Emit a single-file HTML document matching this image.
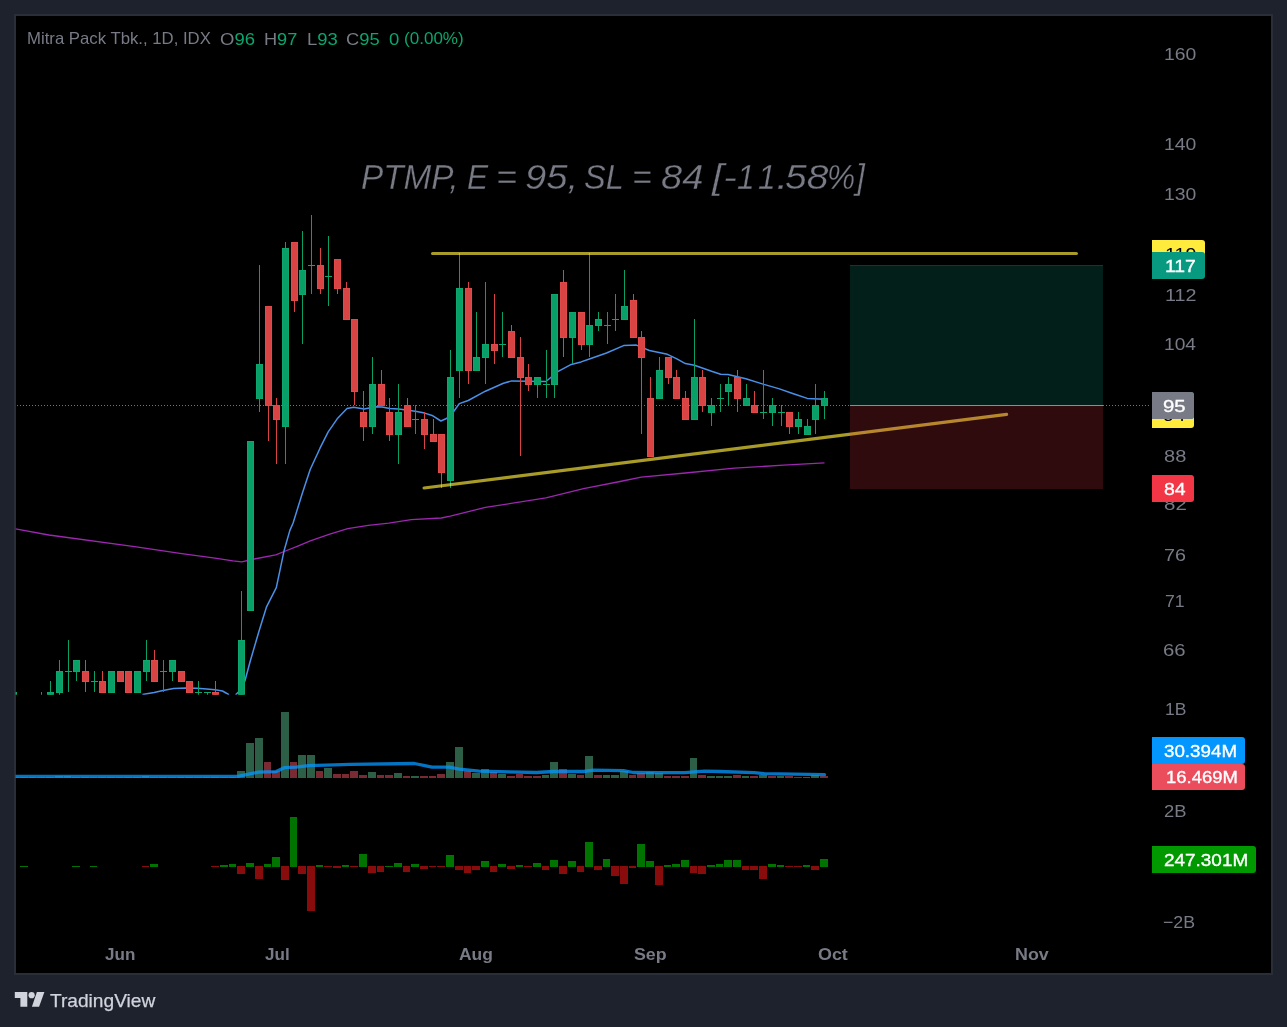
<!DOCTYPE html>
<html><head><meta charset="utf-8"><title>PTMP chart</title>
<style>
html,body{margin:0;padding:0;}
body{width:1287px;height:1027px;overflow:hidden;background:#1e222d;position:relative;font-family:"Liberation Sans",sans-serif;}
#pb{position:absolute;left:14px;top:14px;width:1258.9px;height:960.5px;background:#2a2e39;}
#panel{position:absolute;left:15.5px;top:15.9px;width:1255.8px;height:956.9px;background:#000;}
.t{position:absolute;white-space:pre;line-height:40px;transform-origin:0 0;}
.lb{position:absolute;border-radius:0 3px 3px 0;}
#tx{position:absolute;left:0;top:0;width:1287px;height:1027px;will-change:transform;}
</style></head><body>
<div id="pb"></div><div id="panel"></div>
<svg width="1287" height="1027" viewBox="0 0 1287 1027" style="position:absolute;left:0;top:0">
<defs><clipPath id="cp"><rect x="15.5" y="16" width="1255.5" height="678.7"/></clipPath><clipPath id="cv"><rect x="15.5" y="695" width="1255.5" height="278"/></clipPath></defs>
<g clip-path="url(#cp)">
<path d="M15.5 528.8 L48.9 535.0 L134.6 546.7 L180.0 553.3 L215.0 558.2 L232.9 560.9 L241.7 561.9 L254.3 559.0 L275.7 554.9 L284.2 551.5 L297.2 546.4 L310.3 540.8 L329.0 534.3 L347.7 528.7 L368.3 525.3 L388.8 523.1 L411.3 519.7 L441.3 518.0 L450.3 516.1 L485.4 507.4 L545.9 497.9 L583.6 488.6 L620.0 481.5 L641.3 477.1 L685.4 473.0 L734.5 468.1 L783.6 465.2 L824.5 462.9" fill="none" stroke="#9c27b0" stroke-width="1.3" stroke-linejoin="round"/>
<path d="M142.4 694.6 L154.1 692.4 L163.0 690.4 L173.6 688.5 L185.2 688.1 L197.0 688.3 L206.7 688.9 L215.0 689.8 L222.5 691.0 L229.0 694.7 M235.6 694.7 L240.5 690.0 L244.9 681.0 L250.0 662.0 L258.9 631.5 L266.4 607.2 L276.3 587.6 L284.2 550.2 L289.8 530.6 L293.1 523.0 L302.1 494.0 L310.2 469.5 L320.0 448.2 L328.2 431.9 L337.2 418.8 L347.0 408.6 L353.6 407.3 L364.2 409.0 L375.7 406.7 L382.2 407.0 L389.6 408.6 L398.6 409.0 L408.4 410.3 L416.6 411.4 L424.7 413.1 L432.9 415.8 L440.9 421.0 L447.0 418.2 L453.5 411.7 L459.3 403.6 L468.2 400.5 L485.4 391.2 L503.4 383.2 L511.6 380.9 L528.0 381.2 L545.9 381.5 L550.8 377.5 L558.2 371.3 L571.3 364.4 L581.1 361.9 L590.1 358.7 L606.5 353.0 L623.6 345.6 L636.4 345.1 L649.4 350.5 L667.4 354.3 L676.4 358.7 L685.4 363.6 L694.4 365.2 L711.6 371.3 L720.6 374.2 L728.0 374.5 L745.9 378.8 L763.9 384.4 L778.7 388.6 L793.4 393.8 L807.3 398.4 L824.5 399.2" fill="none" stroke="#4a90e8" stroke-width="1.5" stroke-linejoin="round"/>
<g shape-rendering="crispEdges">
<rect x="15" y="692" width="2" height="4" fill="#0ca66e"/>
<rect x="41" y="692" width="1" height="12" fill="#09a068"/>
<rect x="38" y="703" width="7" height="1" fill="#0ca66e"/>
<rect x="50" y="681" width="1" height="23" fill="#09a068"/>
<rect x="47" y="692" width="7" height="12" fill="#0ca66e"/>
<rect x="48" y="693" width="5" height="10" fill="#09a068"/>
<rect x="59" y="660" width="1" height="43" fill="#09a068"/>
<rect x="56" y="671" width="7" height="22" fill="#0ca66e"/>
<rect x="57" y="672" width="5" height="20" fill="#09a068"/>
<rect x="68" y="640" width="1" height="52" fill="#09a068"/>
<rect x="65" y="671" width="7" height="1" fill="#0ca66e"/>
<rect x="76" y="660" width="1" height="21" fill="#09a068"/>
<rect x="73" y="660" width="7" height="12" fill="#0ca66e"/>
<rect x="74" y="661" width="5" height="10" fill="#09a068"/>
<rect x="85" y="660" width="1" height="32" fill="#d84444"/>
<rect x="82" y="671" width="7" height="11" fill="#e24949"/>
<rect x="83" y="672" width="5" height="9" fill="#d84444"/>
<rect x="94" y="671" width="1" height="21" fill="#09a068"/>
<rect x="91" y="681" width="7" height="1" fill="#0ca66e"/>
<rect x="102" y="671" width="1" height="22" fill="#d84444"/>
<rect x="99" y="681" width="7" height="12" fill="#e24949"/>
<rect x="100" y="682" width="5" height="10" fill="#d84444"/>
<rect x="111" y="671" width="1" height="22" fill="#09a068"/>
<rect x="108" y="671" width="7" height="22" fill="#0ca66e"/>
<rect x="109" y="672" width="5" height="20" fill="#09a068"/>
<rect x="120" y="671" width="1" height="11" fill="#d84444"/>
<rect x="117" y="671" width="7" height="11" fill="#e24949"/>
<rect x="118" y="672" width="5" height="9" fill="#d84444"/>
<rect x="128" y="671" width="1" height="22" fill="#d84444"/>
<rect x="125" y="671" width="7" height="22" fill="#e24949"/>
<rect x="126" y="672" width="5" height="20" fill="#d84444"/>
<rect x="137" y="671" width="1" height="22" fill="#09a068"/>
<rect x="134" y="671" width="7" height="22" fill="#0ca66e"/>
<rect x="135" y="672" width="5" height="20" fill="#09a068"/>
<rect x="146" y="640" width="1" height="41" fill="#09a068"/>
<rect x="143" y="660" width="7" height="12" fill="#0ca66e"/>
<rect x="144" y="661" width="5" height="10" fill="#09a068"/>
<rect x="154" y="650" width="1" height="32" fill="#d84444"/>
<rect x="151" y="660" width="7" height="22" fill="#e24949"/>
<rect x="152" y="661" width="5" height="20" fill="#d84444"/>
<rect x="163" y="660" width="1" height="32" fill="#09a068"/>
<rect x="160" y="671" width="7" height="1" fill="#0ca66e"/>
<rect x="172" y="660" width="1" height="21" fill="#09a068"/>
<rect x="169" y="660" width="7" height="12" fill="#0ca66e"/>
<rect x="170" y="661" width="5" height="10" fill="#09a068"/>
<rect x="181" y="671" width="1" height="11" fill="#d84444"/>
<rect x="178" y="671" width="7" height="11" fill="#e24949"/>
<rect x="179" y="672" width="5" height="9" fill="#d84444"/>
<rect x="189" y="681" width="1" height="12" fill="#d84444"/>
<rect x="186" y="681" width="7" height="12" fill="#e24949"/>
<rect x="187" y="682" width="5" height="10" fill="#d84444"/>
<rect x="198" y="681" width="1" height="22" fill="#09a068"/>
<rect x="195" y="692" width="7" height="1" fill="#0ca66e"/>
<rect x="207" y="692" width="1" height="6" fill="#09a068"/>
<rect x="204" y="692" width="7" height="1" fill="#0ca66e"/>
<rect x="215" y="681" width="1" height="23" fill="#d84444"/>
<rect x="212" y="692" width="7" height="12" fill="#e24949"/>
<rect x="213" y="693" width="5" height="10" fill="#d84444"/>
<rect x="241" y="591" width="1" height="124" fill="#09a068"/>
<rect x="238" y="640" width="7" height="75" fill="#0ca66e"/>
<rect x="239" y="641" width="5" height="73" fill="#09a068"/>
<rect x="250" y="441" width="1" height="170" fill="#09a068"/>
<rect x="247" y="441" width="7" height="170" fill="#0ca66e"/>
<rect x="248" y="442" width="5" height="168" fill="#09a068"/>
<rect x="259" y="265" width="1" height="147" fill="#09a068"/>
<rect x="256" y="364" width="7" height="35" fill="#0ca66e"/>
<rect x="257" y="365" width="5" height="33" fill="#09a068"/>
<rect x="268" y="306" width="1" height="135" fill="#d84444"/>
<rect x="265" y="306" width="7" height="100" fill="#e24949"/>
<rect x="266" y="307" width="5" height="98" fill="#d84444"/>
<rect x="276" y="398" width="1" height="66" fill="#d84444"/>
<rect x="273" y="405" width="7" height="15" fill="#e24949"/>
<rect x="274" y="406" width="5" height="13" fill="#d84444"/>
<rect x="285" y="242" width="1" height="222" fill="#09a068"/>
<rect x="282" y="248" width="7" height="179" fill="#0ca66e"/>
<rect x="283" y="249" width="5" height="177" fill="#09a068"/>
<rect x="294" y="242" width="1" height="70" fill="#d84444"/>
<rect x="291" y="242" width="7" height="59" fill="#e24949"/>
<rect x="292" y="243" width="5" height="57" fill="#d84444"/>
<rect x="302" y="231" width="1" height="113" fill="#09a068"/>
<rect x="299" y="270" width="7" height="25" fill="#0ca66e"/>
<rect x="300" y="271" width="5" height="23" fill="#09a068"/>
<rect x="311" y="215" width="1" height="79" fill="#09a068"/>
<rect x="308" y="265" width="7" height="1" fill="#0ca66e"/>
<rect x="320" y="248" width="1" height="46" fill="#d84444"/>
<rect x="317" y="265" width="7" height="24" fill="#e24949"/>
<rect x="318" y="266" width="5" height="22" fill="#d84444"/>
<rect x="328" y="236" width="1" height="70" fill="#09a068"/>
<rect x="325" y="276" width="7" height="1" fill="#0ca66e"/>
<rect x="337" y="259" width="1" height="35" fill="#d84444"/>
<rect x="334" y="259" width="7" height="30" fill="#e24949"/>
<rect x="335" y="260" width="5" height="28" fill="#d84444"/>
<rect x="346" y="282" width="1" height="38" fill="#d84444"/>
<rect x="343" y="288" width="7" height="32" fill="#e24949"/>
<rect x="344" y="289" width="5" height="30" fill="#d84444"/>
<rect x="354" y="319" width="1" height="86" fill="#d84444"/>
<rect x="351" y="319" width="7" height="73" fill="#e24949"/>
<rect x="352" y="320" width="5" height="71" fill="#d84444"/>
<rect x="363" y="391" width="1" height="50" fill="#d84444"/>
<rect x="360" y="412" width="7" height="15" fill="#e24949"/>
<rect x="361" y="413" width="5" height="13" fill="#d84444"/>
<rect x="372" y="357" width="1" height="77" fill="#09a068"/>
<rect x="369" y="384" width="7" height="43" fill="#0ca66e"/>
<rect x="370" y="385" width="5" height="41" fill="#09a068"/>
<rect x="381" y="370" width="1" height="36" fill="#d84444"/>
<rect x="378" y="384" width="7" height="22" fill="#e24949"/>
<rect x="379" y="385" width="5" height="20" fill="#d84444"/>
<rect x="389" y="398" width="1" height="43" fill="#d84444"/>
<rect x="386" y="412" width="7" height="23" fill="#e24949"/>
<rect x="387" y="413" width="5" height="21" fill="#d84444"/>
<rect x="398" y="384" width="1" height="80" fill="#09a068"/>
<rect x="395" y="412" width="7" height="23" fill="#0ca66e"/>
<rect x="396" y="413" width="5" height="21" fill="#09a068"/>
<rect x="407" y="398" width="1" height="29" fill="#d84444"/>
<rect x="404" y="405" width="7" height="22" fill="#e24949"/>
<rect x="405" y="406" width="5" height="20" fill="#d84444"/>
<rect x="415" y="405" width="1" height="29" fill="#09a068"/>
<rect x="412" y="419" width="7" height="1" fill="#0ca66e"/>
<rect x="424" y="412" width="1" height="37" fill="#d84444"/>
<rect x="421" y="419" width="7" height="16" fill="#e24949"/>
<rect x="422" y="420" width="5" height="14" fill="#d84444"/>
<rect x="433" y="419" width="1" height="23" fill="#d84444"/>
<rect x="430" y="434" width="7" height="8" fill="#e24949"/>
<rect x="431" y="435" width="5" height="6" fill="#d84444"/>
<rect x="441" y="434" width="1" height="54" fill="#d84444"/>
<rect x="438" y="434" width="7" height="39" fill="#e24949"/>
<rect x="439" y="435" width="5" height="37" fill="#d84444"/>
<rect x="450" y="350" width="1" height="138" fill="#09a068"/>
<rect x="447" y="377" width="7" height="104" fill="#0ca66e"/>
<rect x="448" y="378" width="5" height="102" fill="#09a068"/>
<rect x="459" y="253" width="1" height="145" fill="#09a068"/>
<rect x="456" y="288" width="7" height="83" fill="#0ca66e"/>
<rect x="457" y="289" width="5" height="81" fill="#09a068"/>
<rect x="468" y="282" width="1" height="102" fill="#d84444"/>
<rect x="465" y="288" width="7" height="83" fill="#e24949"/>
<rect x="466" y="289" width="5" height="81" fill="#d84444"/>
<rect x="476" y="312" width="1" height="59" fill="#09a068"/>
<rect x="473" y="357" width="7" height="14" fill="#0ca66e"/>
<rect x="474" y="358" width="5" height="12" fill="#09a068"/>
<rect x="485" y="282" width="1" height="102" fill="#09a068"/>
<rect x="482" y="344" width="7" height="14" fill="#0ca66e"/>
<rect x="483" y="345" width="5" height="12" fill="#09a068"/>
<rect x="494" y="294" width="1" height="70" fill="#d84444"/>
<rect x="491" y="344" width="7" height="7" fill="#e24949"/>
<rect x="492" y="345" width="5" height="5" fill="#d84444"/>
<rect x="502" y="312" width="1" height="45" fill="#09a068"/>
<rect x="499" y="344" width="7" height="1" fill="#0ca66e"/>
<rect x="511" y="325" width="1" height="33" fill="#d84444"/>
<rect x="508" y="331" width="7" height="27" fill="#e24949"/>
<rect x="509" y="332" width="5" height="25" fill="#d84444"/>
<rect x="520" y="337" width="1" height="119" fill="#d84444"/>
<rect x="517" y="357" width="7" height="21" fill="#e24949"/>
<rect x="518" y="358" width="5" height="19" fill="#d84444"/>
<rect x="528" y="364" width="1" height="27" fill="#d84444"/>
<rect x="525" y="377" width="7" height="8" fill="#e24949"/>
<rect x="526" y="378" width="5" height="6" fill="#d84444"/>
<rect x="537" y="377" width="1" height="21" fill="#09a068"/>
<rect x="534" y="377" width="7" height="8" fill="#0ca66e"/>
<rect x="535" y="378" width="5" height="6" fill="#09a068"/>
<rect x="546" y="350" width="1" height="48" fill="#09a068"/>
<rect x="543" y="384" width="7" height="1" fill="#0ca66e"/>
<rect x="554" y="294" width="1" height="104" fill="#09a068"/>
<rect x="551" y="294" width="7" height="91" fill="#0ca66e"/>
<rect x="552" y="295" width="5" height="89" fill="#09a068"/>
<rect x="563" y="270" width="1" height="87" fill="#d84444"/>
<rect x="560" y="282" width="7" height="56" fill="#e24949"/>
<rect x="561" y="283" width="5" height="54" fill="#d84444"/>
<rect x="572" y="312" width="1" height="52" fill="#09a068"/>
<rect x="569" y="312" width="7" height="26" fill="#0ca66e"/>
<rect x="570" y="313" width="5" height="24" fill="#09a068"/>
<rect x="581" y="312" width="1" height="38" fill="#d84444"/>
<rect x="578" y="312" width="7" height="33" fill="#e24949"/>
<rect x="579" y="313" width="5" height="31" fill="#d84444"/>
<rect x="589" y="253" width="1" height="104" fill="#09a068"/>
<rect x="586" y="325" width="7" height="20" fill="#0ca66e"/>
<rect x="587" y="326" width="5" height="18" fill="#09a068"/>
<rect x="598" y="312" width="1" height="19" fill="#09a068"/>
<rect x="595" y="319" width="7" height="7" fill="#0ca66e"/>
<rect x="596" y="320" width="5" height="5" fill="#09a068"/>
<rect x="607" y="312" width="1" height="32" fill="#09a068"/>
<rect x="604" y="325" width="7" height="1" fill="#0ca66e"/>
<rect x="615" y="294" width="1" height="37" fill="#09a068"/>
<rect x="612" y="319" width="7" height="1" fill="#0ca66e"/>
<rect x="624" y="270" width="1" height="50" fill="#09a068"/>
<rect x="621" y="306" width="7" height="14" fill="#0ca66e"/>
<rect x="622" y="307" width="5" height="12" fill="#09a068"/>
<rect x="633" y="294" width="1" height="44" fill="#d84444"/>
<rect x="630" y="300" width="7" height="38" fill="#e24949"/>
<rect x="631" y="301" width="5" height="36" fill="#d84444"/>
<rect x="641" y="331" width="1" height="103" fill="#d84444"/>
<rect x="638" y="337" width="7" height="21" fill="#e24949"/>
<rect x="639" y="338" width="5" height="19" fill="#d84444"/>
<rect x="650" y="377" width="1" height="80" fill="#d84444"/>
<rect x="647" y="398" width="7" height="59" fill="#e24949"/>
<rect x="648" y="399" width="5" height="57" fill="#d84444"/>
<rect x="659" y="357" width="1" height="42" fill="#09a068"/>
<rect x="656" y="370" width="7" height="29" fill="#0ca66e"/>
<rect x="657" y="371" width="5" height="27" fill="#09a068"/>
<rect x="668" y="357" width="1" height="27" fill="#d84444"/>
<rect x="665" y="357" width="7" height="21" fill="#e24949"/>
<rect x="666" y="358" width="5" height="19" fill="#d84444"/>
<rect x="676" y="370" width="1" height="29" fill="#d84444"/>
<rect x="673" y="377" width="7" height="22" fill="#e24949"/>
<rect x="674" y="378" width="5" height="20" fill="#d84444"/>
<rect x="685" y="391" width="1" height="29" fill="#d84444"/>
<rect x="682" y="398" width="7" height="22" fill="#e24949"/>
<rect x="683" y="399" width="5" height="20" fill="#d84444"/>
<rect x="694" y="319" width="1" height="101" fill="#09a068"/>
<rect x="691" y="377" width="7" height="43" fill="#0ca66e"/>
<rect x="692" y="378" width="5" height="41" fill="#09a068"/>
<rect x="702" y="370" width="1" height="42" fill="#d84444"/>
<rect x="699" y="377" width="7" height="29" fill="#e24949"/>
<rect x="700" y="378" width="5" height="27" fill="#d84444"/>
<rect x="711" y="398" width="1" height="28" fill="#09a068"/>
<rect x="708" y="405" width="7" height="8" fill="#0ca66e"/>
<rect x="709" y="406" width="5" height="6" fill="#09a068"/>
<rect x="720" y="384" width="1" height="28" fill="#09a068"/>
<rect x="717" y="398" width="7" height="1" fill="#0ca66e"/>
<rect x="728" y="377" width="1" height="28" fill="#09a068"/>
<rect x="725" y="384" width="7" height="8" fill="#0ca66e"/>
<rect x="726" y="385" width="5" height="6" fill="#09a068"/>
<rect x="737" y="370" width="1" height="42" fill="#d84444"/>
<rect x="734" y="377" width="7" height="22" fill="#e24949"/>
<rect x="735" y="378" width="5" height="20" fill="#d84444"/>
<rect x="746" y="384" width="1" height="22" fill="#09a068"/>
<rect x="743" y="398" width="7" height="8" fill="#0ca66e"/>
<rect x="744" y="399" width="5" height="6" fill="#09a068"/>
<rect x="754" y="391" width="1" height="22" fill="#d84444"/>
<rect x="751" y="405" width="7" height="8" fill="#e24949"/>
<rect x="752" y="406" width="5" height="6" fill="#d84444"/>
<rect x="763" y="370" width="1" height="49" fill="#09a068"/>
<rect x="760" y="412" width="7" height="1" fill="#0ca66e"/>
<rect x="772" y="398" width="1" height="28" fill="#09a068"/>
<rect x="769" y="405" width="7" height="8" fill="#0ca66e"/>
<rect x="770" y="406" width="5" height="6" fill="#09a068"/>
<rect x="781" y="405" width="1" height="21" fill="#09a068"/>
<rect x="778" y="412" width="7" height="1" fill="#0ca66e"/>
<rect x="789" y="412" width="1" height="22" fill="#d84444"/>
<rect x="786" y="412" width="7" height="15" fill="#e24949"/>
<rect x="787" y="413" width="5" height="13" fill="#d84444"/>
<rect x="798" y="412" width="1" height="22" fill="#09a068"/>
<rect x="795" y="419" width="7" height="8" fill="#0ca66e"/>
<rect x="796" y="420" width="5" height="6" fill="#09a068"/>
<rect x="807" y="419" width="1" height="16" fill="#09a068"/>
<rect x="804" y="426" width="7" height="9" fill="#0ca66e"/>
<rect x="805" y="427" width="5" height="7" fill="#09a068"/>
<rect x="815" y="384" width="1" height="50" fill="#09a068"/>
<rect x="812" y="405" width="7" height="15" fill="#0ca66e"/>
<rect x="813" y="406" width="5" height="13" fill="#09a068"/>
<rect x="824" y="391" width="1" height="28" fill="#09a068"/>
<rect x="821" y="398" width="7" height="8" fill="#0ca66e"/>
<rect x="822" y="399" width="5" height="6" fill="#09a068"/>
</g>
</g>
<g clip-path="url(#cp)">
<line x1="432.6" y1="253.5" x2="1076.4" y2="253.5" stroke="#ffeb3b" stroke-opacity="0.66" stroke-width="3.2" stroke-linecap="round"/>
<line x1="424.1" y1="488.0" x2="1006.6" y2="414.4" stroke="#ffeb3b" stroke-opacity="0.66" stroke-width="3.2" stroke-linecap="round"/>
<g shape-rendering="crispEdges">
<rect x="850" y="265" width="253" height="140" fill="#089981" fill-opacity="0.2"/>
<rect x="850" y="265" width="253" height="1" fill="#089981" fill-opacity="0.25"/>
<rect x="850" y="405" width="253" height="84" fill="#f23645" fill-opacity="0.2"/>
</g>
</g>
<line x1="17" y1="405.5" x2="1150" y2="405.5" stroke="#0daa71" stroke-width="1" stroke-dasharray="1 2" shape-rendering="crispEdges"/>
<rect x="850" y="405" width="253" height="1" fill="#8a8d96" shape-rendering="crispEdges"/>
<g clip-path="url(#cv)">
<g shape-rendering="crispEdges">
<rect x="11" y="777" width="8" height="1" fill="#7a2a33"/>
<rect x="20" y="777" width="8" height="1" fill="#2d5f47"/>
<rect x="29" y="777" width="7" height="1" fill="#2d5f47"/>
<rect x="37" y="777" width="8" height="1" fill="#7a2a33"/>
<rect x="46" y="777" width="8" height="1" fill="#2d5f47"/>
<rect x="55" y="776" width="8" height="2" fill="#2d5f47"/>
<rect x="64" y="776" width="7" height="2" fill="#2d5f47"/>
<rect x="72" y="777" width="8" height="1" fill="#2d5f47"/>
<rect x="81" y="777" width="8" height="1" fill="#2d5f47"/>
<rect x="90" y="777" width="7" height="1" fill="#7a2a33"/>
<rect x="98" y="777" width="8" height="1" fill="#2d5f47"/>
<rect x="107" y="777" width="8" height="1" fill="#2d5f47"/>
<rect x="116" y="777" width="7" height="1" fill="#7a2a33"/>
<rect x="124" y="777" width="8" height="1" fill="#2d5f47"/>
<rect x="133" y="777" width="8" height="1" fill="#2d5f47"/>
<rect x="142" y="776" width="7" height="2" fill="#2d5f47"/>
<rect x="150" y="777" width="8" height="1" fill="#7a2a33"/>
<rect x="159" y="777" width="8" height="1" fill="#2d5f47"/>
<rect x="168" y="777" width="8" height="1" fill="#7a2a33"/>
<rect x="177" y="777" width="7" height="1" fill="#2d5f47"/>
<rect x="185" y="777" width="8" height="1" fill="#2d5f47"/>
<rect x="194" y="777" width="8" height="1" fill="#7a2a33"/>
<rect x="203" y="777" width="7" height="1" fill="#2d5f47"/>
<rect x="211" y="777" width="8" height="1" fill="#2d5f47"/>
<rect x="220" y="777" width="8" height="1" fill="#7a2a33"/>
<rect x="229" y="777" width="7" height="1" fill="#2d5f47"/>
<rect x="237" y="771" width="8" height="7" fill="#2d5f47"/>
<rect x="246" y="743" width="8" height="35" fill="#2d5f47"/>
<rect x="255" y="738" width="8" height="40" fill="#2d5f47"/>
<rect x="264" y="762" width="7" height="16" fill="#7a2a33"/>
<rect x="272" y="771" width="8" height="7" fill="#7a2a33"/>
<rect x="281" y="712" width="8" height="66" fill="#2d5f47"/>
<rect x="290" y="762" width="7" height="16" fill="#7a2a33"/>
<rect x="298" y="755" width="8" height="23" fill="#2d5f47"/>
<rect x="307" y="755" width="8" height="23" fill="#2d5f47"/>
<rect x="316" y="771" width="7" height="7" fill="#7a2a33"/>
<rect x="324" y="768" width="8" height="10" fill="#2d5f47"/>
<rect x="333" y="774" width="8" height="4" fill="#7a2a33"/>
<rect x="342" y="774" width="7" height="4" fill="#7a2a33"/>
<rect x="350" y="771" width="8" height="7" fill="#7a2a33"/>
<rect x="359" y="775" width="8" height="3" fill="#7a2a33"/>
<rect x="368" y="772" width="8" height="6" fill="#2d5f47"/>
<rect x="377" y="775" width="7" height="3" fill="#7a2a33"/>
<rect x="385" y="775" width="8" height="3" fill="#7a2a33"/>
<rect x="394" y="773" width="8" height="5" fill="#2d5f47"/>
<rect x="403" y="776" width="7" height="2" fill="#7a2a33"/>
<rect x="411" y="776" width="8" height="2" fill="#2d5f47"/>
<rect x="420" y="776" width="8" height="2" fill="#7a2a33"/>
<rect x="429" y="776" width="7" height="2" fill="#7a2a33"/>
<rect x="437" y="774" width="8" height="4" fill="#7a2a33"/>
<rect x="446" y="762" width="8" height="16" fill="#2d5f47"/>
<rect x="455" y="747" width="8" height="31" fill="#2d5f47"/>
<rect x="464" y="771" width="7" height="7" fill="#7a2a33"/>
<rect x="472" y="773" width="8" height="5" fill="#2d5f47"/>
<rect x="481" y="769" width="8" height="9" fill="#2d5f47"/>
<rect x="490" y="772" width="7" height="6" fill="#7a2a33"/>
<rect x="498" y="774" width="8" height="4" fill="#2d5f47"/>
<rect x="507" y="776" width="8" height="2" fill="#7a2a33"/>
<rect x="516" y="774" width="7" height="4" fill="#7a2a33"/>
<rect x="524" y="776" width="8" height="2" fill="#7a2a33"/>
<rect x="533" y="776" width="8" height="2" fill="#7a2a33"/>
<rect x="542" y="775" width="7" height="3" fill="#2d5f47"/>
<rect x="550" y="762" width="8" height="16" fill="#2d5f47"/>
<rect x="559" y="769" width="8" height="9" fill="#7a2a33"/>
<rect x="568" y="774" width="8" height="4" fill="#2d5f47"/>
<rect x="577" y="775" width="7" height="3" fill="#7a2a33"/>
<rect x="585" y="756" width="8" height="22" fill="#2d5f47"/>
<rect x="594" y="775" width="8" height="3" fill="#7a2a33"/>
<rect x="603" y="775" width="7" height="3" fill="#2d5f47"/>
<rect x="611" y="775" width="8" height="3" fill="#2d5f47"/>
<rect x="620" y="771" width="8" height="7" fill="#2d5f47"/>
<rect x="629" y="775" width="7" height="3" fill="#7a2a33"/>
<rect x="637" y="773" width="8" height="5" fill="#7a2a33"/>
<rect x="646" y="772" width="8" height="6" fill="#2d5f47"/>
<rect x="655" y="773" width="8" height="5" fill="#2d5f47"/>
<rect x="664" y="776" width="7" height="2" fill="#7a2a33"/>
<rect x="672" y="776" width="8" height="2" fill="#7a2a33"/>
<rect x="681" y="776" width="8" height="2" fill="#7a2a33"/>
<rect x="690" y="758" width="7" height="20" fill="#2d5f47"/>
<rect x="698" y="775" width="8" height="3" fill="#7a2a33"/>
<rect x="707" y="776" width="8" height="2" fill="#2d5f47"/>
<rect x="716" y="776" width="7" height="2" fill="#2d5f47"/>
<rect x="724" y="776" width="8" height="2" fill="#2d5f47"/>
<rect x="733" y="775" width="8" height="3" fill="#7a2a33"/>
<rect x="742" y="776" width="7" height="2" fill="#2d5f47"/>
<rect x="750" y="776" width="8" height="2" fill="#7a2a33"/>
<rect x="759" y="775" width="8" height="3" fill="#2d5f47"/>
<rect x="768" y="776" width="8" height="2" fill="#7a2a33"/>
<rect x="777" y="776" width="7" height="2" fill="#2d5f47"/>
<rect x="785" y="776" width="8" height="2" fill="#7a2a33"/>
<rect x="794" y="777" width="8" height="1" fill="#7a2a33"/>
<rect x="803" y="777" width="7" height="1" fill="#2d5f47"/>
<rect x="811" y="775" width="8" height="3" fill="#2d5f47"/>
<rect x="820" y="776" width="8" height="2" fill="#7a2a33"/>
</g>
<path d="M15.5 776.3 L238.0 776.3 L246.2 774.6 L258.7 772.1 L276.1 771.6 L284.8 767.6 L296.0 767.1 L308.4 765.6 L334.2 764.9 L349.9 764.3 L414.5 763.5 L431.9 767.2 L449.3 767.2 L459.3 769.2 L479.2 771.2 L536.3 772.5 L553.7 771.5 L583.6 771.5 L593.5 770.2 L623.4 770.7 L633.3 772.5 L659.9 772.7 L684.7 772.7 L704.6 771.2 L719.5 771.5 L754.3 772.7 L764.3 773.7 L824.5 774.7" fill="none" stroke="#0496ff" stroke-opacity="0.77" stroke-width="3.3" stroke-linejoin="round" stroke-linecap="round"/>
<g shape-rendering="crispEdges">
<rect x="20" y="866" width="8" height="1" fill="#007300"/>
<rect x="72" y="866" width="8" height="1" fill="#007300"/>
<rect x="90" y="866" width="7" height="1" fill="#007300"/>
<rect x="142" y="866" width="7" height="1" fill="#880c0c"/>
<rect x="150" y="864" width="8" height="3" fill="#007300"/>
<rect x="211" y="866" width="8" height="1" fill="#880c0c"/>
<rect x="220" y="865" width="8" height="2" fill="#007300"/>
<rect x="229" y="864" width="7" height="3" fill="#007300"/>
<rect x="237" y="866" width="8" height="8" fill="#880c0c"/>
<rect x="246" y="863" width="8" height="4" fill="#007300"/>
<rect x="255" y="866" width="8" height="13" fill="#880c0c"/>
<rect x="264" y="864" width="7" height="3" fill="#007300"/>
<rect x="272" y="857" width="8" height="10" fill="#007300"/>
<rect x="281" y="866" width="8" height="14" fill="#880c0c"/>
<rect x="290" y="817" width="7" height="50" fill="#007300"/>
<rect x="298" y="866" width="8" height="8" fill="#880c0c"/>
<rect x="307" y="866" width="8" height="45" fill="#880c0c"/>
<rect x="316" y="865" width="7" height="2" fill="#007300"/>
<rect x="324" y="866" width="8" height="1" fill="#880c0c"/>
<rect x="333" y="866" width="8" height="2" fill="#880c0c"/>
<rect x="342" y="865" width="7" height="2" fill="#007300"/>
<rect x="350" y="866" width="8" height="1" fill="#880c0c"/>
<rect x="359" y="854" width="8" height="13" fill="#007300"/>
<rect x="368" y="866" width="8" height="7" fill="#880c0c"/>
<rect x="377" y="866" width="7" height="6" fill="#880c0c"/>
<rect x="385" y="866" width="8" height="1" fill="#007300"/>
<rect x="394" y="863" width="8" height="4" fill="#007300"/>
<rect x="403" y="866" width="7" height="6" fill="#880c0c"/>
<rect x="411" y="864" width="8" height="3" fill="#007300"/>
<rect x="420" y="866" width="8" height="3" fill="#880c0c"/>
<rect x="429" y="866" width="7" height="1" fill="#880c0c"/>
<rect x="437" y="866" width="8" height="1" fill="#880c0c"/>
<rect x="446" y="855" width="8" height="12" fill="#007300"/>
<rect x="455" y="866" width="8" height="4" fill="#880c0c"/>
<rect x="464" y="866" width="7" height="7" fill="#880c0c"/>
<rect x="472" y="866" width="8" height="4" fill="#880c0c"/>
<rect x="481" y="861" width="8" height="6" fill="#007300"/>
<rect x="490" y="866" width="7" height="6" fill="#880c0c"/>
<rect x="498" y="864" width="8" height="3" fill="#007300"/>
<rect x="507" y="866" width="8" height="3" fill="#880c0c"/>
<rect x="516" y="865" width="7" height="2" fill="#007300"/>
<rect x="524" y="866" width="8" height="1" fill="#880c0c"/>
<rect x="533" y="863" width="8" height="4" fill="#007300"/>
<rect x="542" y="866" width="7" height="4" fill="#880c0c"/>
<rect x="550" y="860" width="8" height="7" fill="#007300"/>
<rect x="559" y="866" width="8" height="8" fill="#880c0c"/>
<rect x="568" y="861" width="8" height="6" fill="#007300"/>
<rect x="577" y="866" width="7" height="6" fill="#880c0c"/>
<rect x="585" y="842" width="8" height="25" fill="#007300"/>
<rect x="594" y="866" width="8" height="4" fill="#880c0c"/>
<rect x="603" y="859" width="7" height="8" fill="#007300"/>
<rect x="611" y="866" width="8" height="10" fill="#880c0c"/>
<rect x="620" y="866" width="8" height="18" fill="#880c0c"/>
<rect x="629" y="866" width="7" height="2" fill="#880c0c"/>
<rect x="637" y="844" width="8" height="23" fill="#007300"/>
<rect x="646" y="861" width="8" height="6" fill="#007300"/>
<rect x="655" y="866" width="8" height="19" fill="#880c0c"/>
<rect x="664" y="865" width="7" height="2" fill="#007300"/>
<rect x="672" y="864" width="8" height="3" fill="#007300"/>
<rect x="681" y="860" width="8" height="7" fill="#007300"/>
<rect x="690" y="866" width="7" height="7" fill="#880c0c"/>
<rect x="698" y="866" width="8" height="8" fill="#880c0c"/>
<rect x="707" y="865" width="8" height="2" fill="#007300"/>
<rect x="716" y="864" width="7" height="3" fill="#007300"/>
<rect x="724" y="860" width="8" height="7" fill="#007300"/>
<rect x="733" y="860" width="8" height="7" fill="#007300"/>
<rect x="742" y="866" width="7" height="4" fill="#880c0c"/>
<rect x="750" y="866" width="8" height="4" fill="#880c0c"/>
<rect x="759" y="866" width="8" height="13" fill="#880c0c"/>
<rect x="768" y="864" width="8" height="3" fill="#007300"/>
<rect x="777" y="865" width="7" height="2" fill="#007300"/>
<rect x="785" y="866" width="8" height="1" fill="#880c0c"/>
<rect x="794" y="866" width="8" height="1" fill="#880c0c"/>
<rect x="803" y="865" width="7" height="2" fill="#007300"/>
<rect x="811" y="866" width="8" height="4" fill="#880c0c"/>
<rect x="820" y="859" width="8" height="8" fill="#007300"/>
</g>
</g>
<g fill="#d1d4dc">
<path d="M14.8 992.1 H27.3 V1006.7 H20.4 V998 H14.8 Z"/>
<circle cx="31.6" cy="995.2" r="3.1"/>
<path d="M36.9 992.1 H44.4 L39.1 1006.7 H31.9 Z"/>
</g>
</svg>
<div id="tx">
<div class="lb" style="left:1152px;top:240px;width:53px;height:27px;background:#ffeb3b;z-index:1"></div>
<div class="lb" style="left:1152px;top:252px;width:53px;height:27px;background:#089981;z-index:3"></div>
<div class="lb" style="left:1152px;top:401px;width:42px;height:27px;background:#ffeb3b;z-index:1"></div>
<div class="lb" style="left:1152px;top:392px;width:42px;height:27px;background:#0daa71;z-index:3"></div>
<div class="lb" style="left:1152px;top:392.2px;width:42px;height:26.6px;background:#787b86;z-index:5"></div>
<div class="lb" style="left:1152px;top:475px;width:42px;height:27px;background:#f23645;z-index:5"></div>
<div class="lb" style="left:1152px;top:737px;width:93px;height:27px;background:#0496ff;z-index:5"></div>
<div class="lb" style="left:1152px;top:764px;width:93px;height:26px;background:#eb4d5c;z-index:5"></div>
<div class="lb" style="left:1152px;top:846px;width:104px;height:27px;background:#009900;z-index:5"></div>
<div class="t" style="left:26.83px;top:18.10px;font-size:16.5px;color:#787b86;z-index:5;transform:scaleX(1.0145)">Mitra Pack Tbk., 1D, IDX</div>
<div class="t" style="left:220.26px;top:18.73px;font-size:16.5px;color:#787b86;z-index:5;transform:scaleX(1.1193)">O<span style="color:#0aa66e">96</span></div>
<div class="t" style="left:264.32px;top:18.73px;font-size:16.5px;color:#787b86;z-index:5;transform:scaleX(1.1009)">H<span style="color:#0aa66e">97</span></div>
<div class="t" style="left:306.70px;top:18.73px;font-size:16.5px;color:#787b86;z-index:5;transform:scaleX(1.1176)">L<span style="color:#0aa66e">93</span></div>
<div class="t" style="left:346.07px;top:18.73px;font-size:16.5px;color:#787b86;z-index:5;transform:scaleX(1.1130)">C<span style="color:#0aa66e">95</span></div>
<div class="t" style="left:388.86px;top:18.73px;font-size:16.5px;color:#0aa66e;z-index:5;transform:scaleX(1.1226)">0</div>
<div class="t" style="left:403.97px;top:17.85px;font-size:16.5px;color:#0aa66e;z-index:5;transform:scaleX(1.0332)">(0.00%)</div>
<div class="t" style="left:361.49px;top:156.88px;font-size:34.4px;font-style:italic;-webkit-text-stroke:0.3px #000;color:#787b86;z-index:5;transform:scaleX(0.9690)">PTMP,</div>
<div class="t" style="left:466.55px;top:156.88px;font-size:34.4px;font-style:italic;-webkit-text-stroke:0.3px #000;color:#787b86;z-index:5;transform:scaleX(0.9200)">E</div>
<div class="t" style="left:495.54px;top:156.88px;font-size:34.4px;font-style:italic;-webkit-text-stroke:0.3px #000;color:#787b86;z-index:5;transform:scaleX(1.0485)">=</div>
<div class="t" style="left:524.63px;top:156.88px;font-size:34.4px;font-style:italic;-webkit-text-stroke:0.3px #000;color:#787b86;z-index:5;transform:scaleX(1.1119)">95,</div>
<div class="t" style="left:584.32px;top:156.88px;font-size:34.4px;font-style:italic;-webkit-text-stroke:0.3px #000;color:#787b86;z-index:5;transform:scaleX(0.9438)">SL</div>
<div class="t" style="left:632.39px;top:156.88px;font-size:34.4px;font-style:italic;-webkit-text-stroke:0.3px #000;color:#787b86;z-index:5;transform:scaleX(0.9818)">=</div>
<div class="t" style="left:661.29px;top:156.88px;font-size:34.4px;font-style:italic;-webkit-text-stroke:0.3px #000;color:#787b86;z-index:5;transform:scaleX(1.1077)">84</div>
<div class="t" style="left:712.00px;top:156.88px;font-size:34.4px;font-style:italic;-webkit-text-stroke:0.3px #000;color:#787b86;z-index:5;transform:scaleX(1.1902)">[-</div>
<div class="t" style="left:736.62px;top:156.88px;font-size:34.4px;font-style:italic;-webkit-text-stroke:0.3px #000;color:#787b86;z-index:5;transform:scaleX(0.9200)">1</div>
<div class="t" style="left:757.62px;top:156.88px;font-size:34.4px;font-style:italic;-webkit-text-stroke:0.3px #000;color:#787b86;z-index:5;transform:scaleX(0.9200)">1</div>
<div class="t" style="left:775.79px;top:156.88px;font-size:34.4px;font-style:italic;-webkit-text-stroke:0.3px #000;color:#787b86;z-index:5;transform:scaleX(1.3429)">.</div>
<div class="t" style="left:784.86px;top:156.88px;font-size:34.4px;font-style:italic;-webkit-text-stroke:0.3px #000;color:#787b86;z-index:5;transform:scaleX(1.1351)">58</div>
<div class="t" style="left:827.41px;top:156.88px;font-size:34.4px;font-style:italic;-webkit-text-stroke:0.3px #000;color:#787b86;z-index:5;transform:scaleX(0.9200)">%</div>
<div class="t" style="left:855.92px;top:156.88px;font-size:34.4px;font-style:italic;-webkit-text-stroke:0.3px #000;color:#787b86;z-index:5;transform:scaleX(0.9280)">]</div>
<div class="t" style="left:1164.48px;top:34.85px;font-size:17px;color:#787b86;z-index:1;transform:scaleX(1.1396)">160</div>
<div class="t" style="left:1164.48px;top:124.85px;font-size:17px;color:#787b86;z-index:1;transform:scaleX(1.1396)">140</div>
<div class="t" style="left:1164.48px;top:174.65px;font-size:17px;color:#787b86;z-index:1;transform:scaleX(1.1396)">130</div>
<div class="t" style="left:1164.85px;top:276.07px;font-size:17px;color:#787b86;z-index:1;transform:scaleX(1.1600)">112</div>
<div class="t" style="left:1164.49px;top:325.15px;font-size:17px;color:#787b86;z-index:1;transform:scaleX(1.1290)">104</div>
<div class="t" style="left:1163.52px;top:436.85px;font-size:17px;color:#787b86;z-index:1;transform:scaleX(1.1771)">88</div>
<div class="t" style="left:1163.50px;top:484.65px;font-size:17px;color:#787b86;z-index:1;transform:scaleX(1.2058)">82</div>
<div class="t" style="left:1164.03px;top:536.15px;font-size:17px;color:#787b86;z-index:1;transform:scaleX(1.1600)">76</div>
<div class="t" style="left:1164.52px;top:582.08px;font-size:17px;color:#787b86;z-index:1;transform:scaleX(1.0377)">71</div>
<div class="t" style="left:1163.40px;top:630.65px;font-size:17px;color:#787b86;z-index:1;transform:scaleX(1.1943)">66</div>
<div class="t" style="left:1165.02px;top:690.17px;font-size:17px;color:#787b86;z-index:1;transform:scaleX(1.0270)">1B</div>
<div class="t" style="left:1163.99px;top:791.88px;font-size:17px;color:#787b86;z-index:1;transform:scaleX(1.0789)">2B</div>
<div class="t" style="left:1163.32px;top:902.83px;font-size:17px;color:#787b86;z-index:1;transform:scaleX(1.0448)">−2B</div>
<div class="t" style="left:1164.85px;top:234.95px;font-size:17px;color:#000;z-index:2;transform:scaleX(1.1600)">119</div>
<div class="t" style="left:1165.16px;top:246.65px;font-size:17px;-webkit-text-stroke:0.35px #fff;color:#fff;z-index:4;transform:scaleX(1.1373)">117</div>
<div class="t" style="left:1163.22px;top:395.95px;font-size:17px;color:#000;z-index:2;transform:scaleX(1.1775)">94</div>
<div class="t" style="left:1163.20px;top:387.07px;font-size:17px;-webkit-text-stroke:0.35px #fff;color:#fff;z-index:6;transform:scaleX(1.1943)">95</div>
<div class="t" style="left:1163.83px;top:470.18px;font-size:17px;-webkit-text-stroke:0.35px #fff;color:#fff;z-index:6;transform:scaleX(1.1444)">84</div>
<div class="t" style="left:1164.25px;top:732.27px;font-size:17px;-webkit-text-stroke:0.35px #fff;color:#fff;z-index:6;transform:scaleX(1.1039)">30.394M</div>
<div class="t" style="left:1165.52px;top:757.77px;font-size:17px;-webkit-text-stroke:0.35px #fff;color:#fff;z-index:6;transform:scaleX(1.0844)">16.469M</div>
<div class="t" style="left:1163.97px;top:841.17px;font-size:17px;-webkit-text-stroke:0.35px #fff;color:#fff;z-index:6;transform:scaleX(1.1132)">247.301M</div>
<div class="t" style="left:104.95px;top:934.95px;font-size:17px;font-weight:bold;color:#787b86;z-index:1;transform:scaleX(1.0034)">Jun</div>
<div class="t" style="left:264.55px;top:934.95px;font-size:17px;font-weight:bold;color:#787b86;z-index:1;transform:scaleX(1.0043)">Jul</div>
<div class="t" style="left:459.39px;top:934.95px;font-size:17px;font-weight:bold;color:#787b86;z-index:1;transform:scaleX(1.0254)">Aug</div>
<div class="t" style="left:634.38px;top:934.95px;font-size:17px;font-weight:bold;color:#787b86;z-index:1;transform:scaleX(1.0467)">Sep</div>
<div class="t" style="left:818.11px;top:934.95px;font-size:17px;font-weight:bold;color:#787b86;z-index:1;transform:scaleX(1.0509)">Oct</div>
<div class="t" style="left:1015.49px;top:934.95px;font-size:17px;font-weight:bold;color:#787b86;z-index:1;transform:scaleX(1.0504)">Nov</div>
<div class="t" style="left:49.64px;top:981.33px;font-size:18.5px;-webkit-text-stroke:0.25px #d1d4dc;color:#d1d4dc;z-index:1;transform:scaleX(1.0339)">TradingView</div>
</div>
</body></html>
